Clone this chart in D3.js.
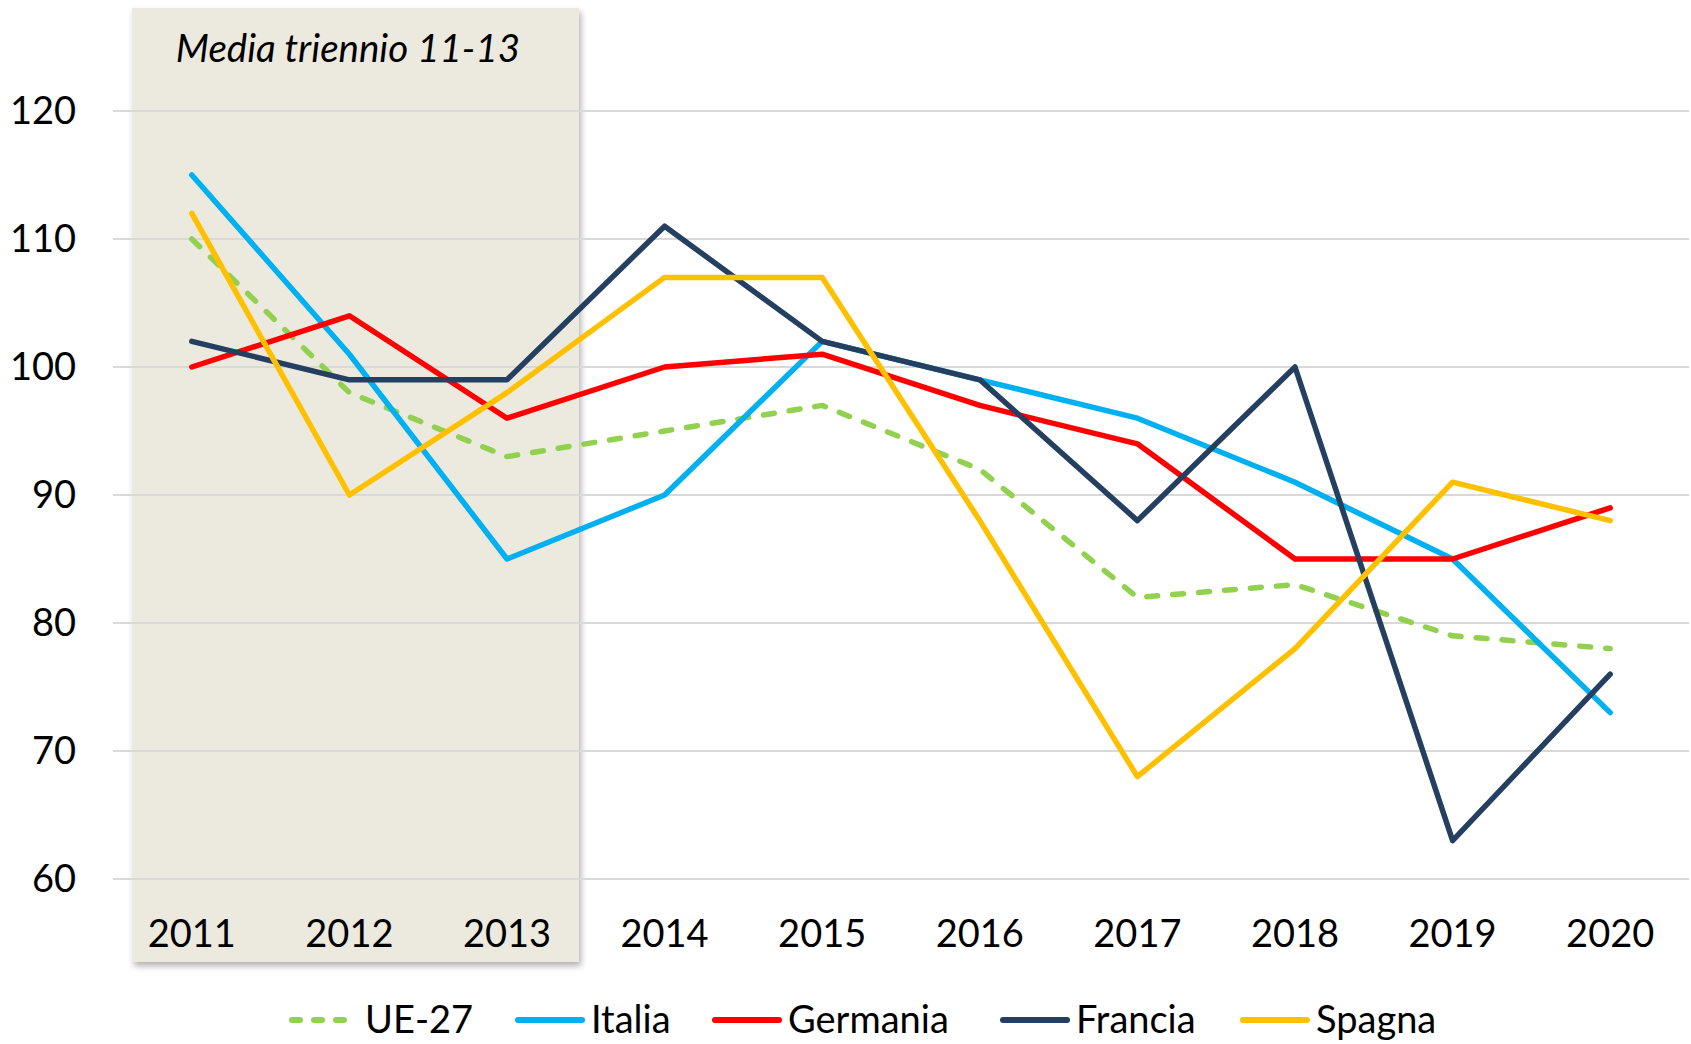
<!DOCTYPE html>
<html>
<head>
<meta charset="utf-8">
<script src="https://cdn.jsdelivr.net/npm/d3@7"></script>
<style>
  body { margin: 0; background: #fff; }
  text { font-family: Lato, "Open Sans", sans-serif; fill: #000; }
</style>
</head>
<body>
<script>
var width = 1691;
var height = 1044;

var years = [2011, 2012, 2013, 2014, 2015, 2016, 2017, 2018, 2019, 2020];
var yTicks = [60, 70, 80, 90, 100, 110, 120];

var ue27     = [110, 98, 93, 95, 97, 92, 82, 83, 79, 78];
var italia   = [115, 101, 85, 90, 102, 99, 96, 91, 85, 73];
var germania = [100, 104, 96, 100, 101, 97, 94, 85, 85, 89];
var francia  = [102, 99, 99, 111, 102, 99, 88, 100, 63, 76];
var spagna   = [112, 90, 98, 107, 107, 88, 68, 78, 91, 88];

var seriesNames = ["UE-27", "Italia", "Germania", "Francia", "Spagna"];
var seriesColors = ["#92D050", "#00B0F0", "#FF0000", "#243F60", "#FFC000"];
var series = [ue27, italia, germania, francia, spagna].map(function(v, i) {
    return { name: seriesNames[i], color: seriesColors[i], dashed: i == 0, values: v };
});

var svg = d3.select("body").append("svg")
    .attr("width", width)
    .attr("height", height);

var defs = svg.append("defs");
var shadow = defs.append("filter")
    .attr("id", "shadow")
    .attr("x", "-5%").attr("y", "-5%")
    .attr("width", "115%").attr("height", "115%");
shadow.append("feDropShadow")
    .attr("dx", 2).attr("dy", 4)
    .attr("stdDeviation", 3)
    .attr("flood-color", "#000")
    .attr("flood-opacity", 0.3);

var x = d3.scalePoint()
    .domain(years)
    .range([113, 1689])
    .padding(0.5);

var y = d3.scaleLinear()
    .domain([60, 120])
    .range([879, 111]);

// shaded box behind the first three years
svg.append("rect")
    .attr("x", x(2011) - 60)
    .attr("y", 8)
    .attr("width", x(2013) + 72 - (x(2011) - 60))
    .attr("height", 954)
    .attr("fill", "#ECE9DF")
    .attr("filter", "url(#shadow)");

svg.append("text")
    .attr("x", x(2011) - 16)
    .attr("y", 62)
    .attr("font-size", 38.5)
    .attr("font-style", "italic")
    .text("Media triennio 11-13");

// gridlines
svg.append("g")
    .selectAll("line")
    .data(yTicks)
    .enter()
      .append("line")
      .attr("x1", 113)
      .attr("x2", 1689)
      .attr("y1", function(d) { return y(d); })
      .attr("y2", function(d) { return y(d); })
      .attr("stroke", "#D9D9D9")
      .attr("stroke-width", 2);

// y labels
svg.append("g")
    .selectAll("text")
    .data(yTicks)
    .enter()
      .append("text")
      .attr("x", 76)
      .attr("y", function(d) { return y(d); })
      .attr("dy", "0.35em")
      .attr("text-anchor", "end")
      .attr("font-size", 38)
      .text(function(d) { return d; });

// x labels
svg.append("g")
    .selectAll("text")
    .data(years)
    .enter()
      .append("text")
      .attr("x", function(d) { return x(d); })
      .attr("y", 947)
      .attr("text-anchor", "middle")
      .attr("font-size", 38)
      .text(function(d) { return d; });

var line = d3.line()
    .x(function(d, i) { return x(years[i]); })
    .y(function(d) { return y(d); });

svg.append("g")
    .selectAll("path")
    .data(series)
    .enter()
      .append("path")
      .attr("d", function(d) { return line(d.values); })
      .attr("fill", "none")
      .attr("stroke", function(d) { return d.color; })
      .attr("stroke-width", 5.5)
      .attr("stroke-linecap", "round")
      .attr("stroke-linejoin", "round")
      .attr("stroke-dasharray", function(d) { return d.dashed ? "11,15" : null; });

// legend
var legendX = [292, 518, 715, 1003, 1243];
var legend = svg.append("g")
    .selectAll("g")
    .data(series)
    .enter()
      .append("g")
      .attr("transform", function(d, i) { return "translate(" + legendX[i] + ",1020)"; });

legend.append("line")
    .attr("x1", 0)
    .attr("x2", 64)
    .attr("stroke", function(d) { return d.color; })
    .attr("stroke-width", 6)
    .attr("stroke-linecap", "round")
    .attr("stroke-dasharray", function(d) { return d.dashed ? "8,14" : null; });

legend.append("text")
    .attr("x", 73)
    .attr("dy", "0.35em")
    .attr("font-size", 38)
    .text(function(d) { return d.name; });
</script>
</body>
</html>
